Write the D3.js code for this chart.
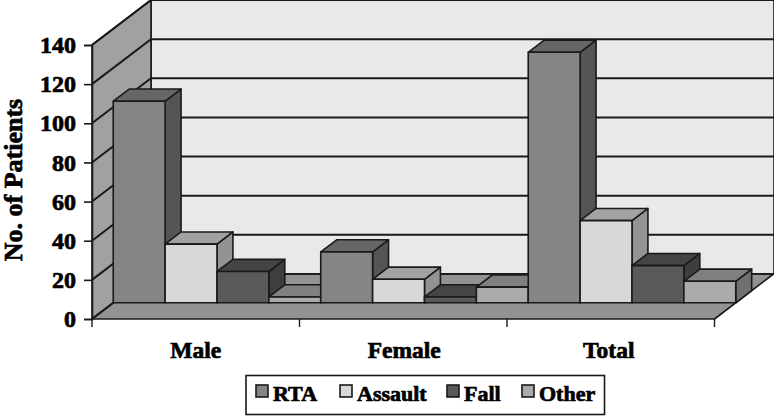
<!DOCTYPE html>
<html><head><meta charset="utf-8">
<script src="https://cdn.jsdelivr.net/npm/d3@7"></script>
<style>html,body{margin:0;padding:0;background:#fff}svg{display:block}
text{font-family:"Liberation Serif",serif;font-weight:bold;fill:#000;stroke:#000;stroke-width:.7px}</style>
</head><body><svg id="c" width="774" height="416"></svg>
<script>
const categories=["Male","Female","Total"];
const seriesNames=["RTA","Assault","Fall","Other"];
const rta=[103,26,128];
const assault=[30,12,42];
const fall=[16,3,19];
const other=[3,8,11];
const yTicks=[0,20,40,60,80,100,120,140];
const seriesValues=[rta,assault,fall,other];
const front={RTA:"#858585",Assault:"#d8d8d8",Fall:"#5a5a5a",Other:"#ababab"};
const top_={RTA:"#666666",Assault:"#a2a2a2",Fall:"#454545",Other:"#808080"};
const side={RTA:"#555555",Assault:"#939393",Fall:"#3e3e3e",Other:"#707070"};
const ink="#1a1a1a";

const svg=d3.select("#c");
const y=d3.scaleLinear().domain([0,140]).range([319,45]);
const x0=d3.scaleBand().domain(categories).range([92,714.5]);
const x1=d3.scaleBand().domain(seriesNames).range([0,x0.bandwidth()]);
// depth: 0 = front of the floor, 1 = back wall
const dx=d3.scaleLinear().domain([0,1]).range([0,59]);
const dy=d3.scaleLinear().domain([0,1]).range([0,-45]);
const barD0=0.36,barD1=0.63;
const poly=(pts,fill,sw=1.6)=>svg.append("path").attr("d","M"+pts.map(p=>p.join(",")).join("L")+"Z")
  .attr("fill",fill).attr("stroke",ink).attr("stroke-width",sw).attr("stroke-linejoin","round");
const X0=92,X1=714.5,Y0=y(0),YT=y(140),DX=dx(1),DY=dy(1);

// walls and floor
poly([[X0+DX,YT+DY],[X1+DX+.5,YT+DY],[X1+DX+.5,Y0+DY],[X0+DX,Y0+DY]],"#e9e9e9");
poly([[X0,YT],[X0+DX,YT+DY],[X0+DX,Y0+DY],[X0,Y0]],"#a1a1a1");
poly([[X0,Y0],[X1,Y0],[X1+DX,Y0+DY],[X0+DX,Y0+DY]],"#939393");

// gridlines
yTicks.forEach(t=>{
  const p=y(t);
  svg.append("path").attr("fill","none").attr("stroke",ink).attr("stroke-width",t===0?1.6:2)
    .attr("d",`M${X0},${p}L${X0+DX},${p+DY}L${X1+DX+.5},${p+DY}`);
});

// bars
categories.forEach((c,i)=>{
  seriesNames.forEach((s,j)=>{
    const v=seriesValues[j][i];
    const xa=x0(c)+x1(s),xb=xa+x1.bandwidth();
    const ax=dx(barD0),ay=dy(barD0),bx=dx(barD1),by=dy(barD1);
    const yb=y(0),yt=y(v);
    poly([[xb+ax,yt+ay],[xb+bx,yt+by],[xb+bx,yb+by],[xb+ax,yb+ay]],side[s]);
    poly([[xa+ax,yt+ay],[xa+bx,yt+by],[xb+bx,yt+by],[xb+ax,yt+ay]],top_[s]);
    poly([[xa+ax,yt+ay],[xb+ax,yt+ay],[xb+ax,yb+ay],[xa+ax,yb+ay]],front[s]);
  });
});

// y axis
const ga=svg.append("g").attr("transform",`translate(${X0},0)`)
  .call(d3.axisLeft(y).tickValues(yTicks).tickSize(8).tickPadding(8));
ga.select(".domain").attr("stroke",ink).attr("stroke-width",1.6);
ga.selectAll(".tick line").attr("stroke",ink).attr("stroke-width",1.6);
ga.selectAll("text").style("font-size","24px").style("font-family",'"Liberation Serif",serif');

// x axis
const xb=svg.append("g").attr("transform",`translate(0,${Y0})`)
  .call(d3.axisBottom(x0).tickSize(0).tickPadding(22));
xb.select(".domain").remove();
xb.selectAll("text").style("font-size","23.5px").style("font-family",'"Liberation Serif",serif')
  .attr("dx",(d,i)=>[0,1,-2][i]);
[...categories.map(c=>x0(c)),X1].forEach(t=>{
  svg.append("line").attr("x1",t).attr("x2",t).attr("y1",Y0).attr("y2",Y0+8).attr("stroke",ink).attr("stroke-width",1.4);
});

// y title
svg.append("text").attr("transform","translate(22,180) rotate(-90)").attr("text-anchor","middle")
  .style("font-size","26px").text("No. of Patients");

// legend
svg.append("rect").attr("x",246).attr("y",375.5).attr("width",358.5).attr("height",39)
  .attr("fill","#fff").attr("stroke",ink).attr("stroke-width",1.6);
const legendX=d3.scaleOrdinal().domain(seriesNames).range([256,340,447,522]);
seriesNames.forEach(s=>{
  const lx=legendX(s);
  svg.append("rect").attr("x",lx).attr("y",385).attr("width",12).attr("height",12)
    .attr("fill",front[s]).attr("stroke",ink).attr("stroke-width",1.6);
  svg.append("text").attr("x",lx+17).attr("y",400.5).style("font-size","22px").text(s);
});
</script></body></html>
